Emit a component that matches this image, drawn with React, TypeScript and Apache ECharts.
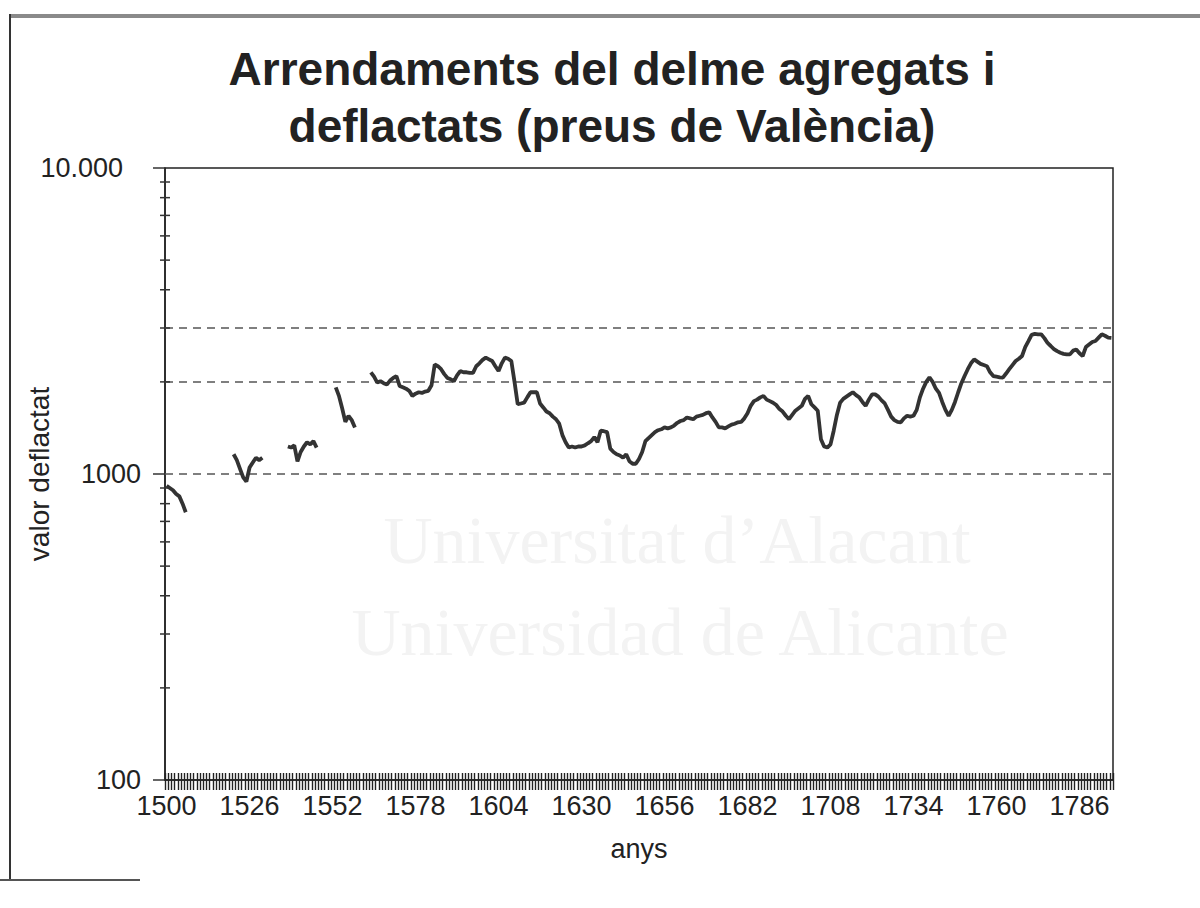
import React, { useEffect, useRef } from "react";
import * as echarts from "echarts";

// Categories: years
const firstYear = 1500;
const lastYear = 1796;
const years: string[] = [];
for (let y = firstYear; y <= lastYear; y++) years.push(String(y));

// Series values (deflated value), by segment start year; gaps are missing years
const seg1500 = [915, 900, 885, 860, 845, 800, 750];
const seg1521 = [1160, 1110, 1040, 975, 945, 1050, 1090, 1130, 1110, 1130];
const seg1538 = [1230, 1220, 1240, 1100, 1180, 1230, 1270, 1250, 1280, 1220];
const seg1553 = [1920, 1800, 1640, 1480, 1550, 1500, 1420];
const seg1564 = [
  2150, 2080, 1990, 2010, 1980, 1960, 2020, 2060, 2090, 1940,
  1920, 1900, 1870, 1800, 1830, 1850, 1840, 1860, 1870, 1950,
  2280, 2250, 2200, 2120, 2060, 2040, 2010, 2100, 2170, 2150,
  2150, 2140, 2140, 2250, 2300, 2360, 2400, 2370, 2340, 2250,
  2170, 2300, 2400, 2380, 2340, 2000, 1690, 1700, 1710, 1780,
  1850, 1850, 1850, 1700, 1650, 1600, 1580, 1540, 1510, 1460,
  1340, 1270, 1220, 1230, 1220, 1230, 1230, 1240, 1260, 1280,
  1320, 1270, 1385, 1380, 1370, 1210, 1180, 1160, 1150, 1130,
  1160, 1100, 1080, 1080, 1120, 1180, 1280, 1310, 1340, 1370,
  1390, 1400, 1420, 1410, 1420, 1440, 1470, 1490, 1500, 1530,
  1520, 1510, 1540, 1550, 1560, 1580, 1590, 1530, 1480, 1420,
  1420, 1410, 1430, 1450, 1460, 1475, 1480, 1520, 1580, 1670,
  1730, 1750, 1780, 1800, 1750, 1730, 1710, 1680, 1630, 1600,
  1550, 1510, 1560, 1610, 1640, 1670, 1760, 1800, 1690, 1650,
  1610, 1300, 1230, 1220, 1250, 1385, 1560, 1710, 1760, 1790,
  1820, 1850, 1810, 1780, 1720, 1670, 1750, 1820, 1820, 1790,
  1740, 1700, 1620, 1540, 1500, 1480, 1474, 1520, 1550, 1540,
  1550, 1620, 1780, 1900, 2000, 2070, 2000, 1900, 1840, 1720,
  1620, 1550, 1620, 1720, 1850, 1980, 2090, 2200, 2300, 2370,
  2330, 2290, 2270, 2250, 2150, 2090, 2080, 2070, 2065, 2130,
  2200, 2270, 2340, 2380, 2430, 2600, 2720, 2850, 2870, 2860,
  2860, 2780, 2680, 2620, 2560, 2520, 2490, 2470, 2460, 2460,
  2530, 2550, 2480, 2430, 2600, 2650, 2700, 2720, 2790, 2860,
  2830, 2790, 2785,
];
const segmentStarts = [1500, 1521, 1538, 1553, 1564];
const segmentValues = [seg1500, seg1521, seg1538, seg1553, seg1564];

// Reference (dashed) lines and y-axis minor tick values
const dashedLineValues = [1000, 2000, 3000];
const minorTickValues = [200, 300, 400, 500, 600, 700, 800, 900, 2000, 3000, 4000, 5000, 6000, 7000, 8000, 9000];

const titleText = "Arrendaments del delme agregats i\ndeflactats (preus de València)";

function buildSeries(): (number | null)[] {
  const out: (number | null)[] = years.map(() => null);
  segmentStarts.forEach((start, s) => {
    segmentValues[s].forEach((v, i) => {
      out[start - firstYear + i] = v;
    });
  });
  return out;
}

export default function App() {
  const ref = useRef<HTMLDivElement>(null);
  useEffect(() => {
    if (!ref.current) return;
    const chart = echarts.init(ref.current, null, { renderer: "svg" });
    const font = "Arial, 'Liberation Sans', sans-serif";
    const option: any = {
      animation: false,
      backgroundColor: "#ffffff",
      title: {
        text: titleText,
        left: 612,
        top: 40,
        textAlign: "center",
        padding: 0,
        textStyle: {
          fontFamily: font,
          fontSize: 46,
          fontWeight: "bold",
          lineHeight: 57,
          color: "#222",
        },
      },
      graphic: [
        { type: "line", shape: { x1: 10, y1: 16, x2: 1200, y2: 16 }, style: { stroke: "#8a8a8a", lineWidth: 4 }, z: 0 },
        { type: "line", shape: { x1: 10, y1: 14, x2: 10, y2: 880 }, style: { stroke: "#333", lineWidth: 2 }, z: 0 },
        { type: "line", shape: { x1: 0, y1: 880, x2: 140, y2: 880 }, style: { stroke: "#555", lineWidth: 2 }, z: 0 },
        {
          type: "text",
          x: 677,
          y: 540,
          z: -1,
          style: { text: "Universitat d’Alacant", font: "68px 'Liberation Serif', serif", fill: "#f3f3f3", align: "center", verticalAlign: "middle" },
        },
        {
          type: "text",
          x: 680,
          y: 632,
          z: -1,
          style: { text: "Universidad de Alicante", font: "68px 'Liberation Serif', serif", fill: "#f3f3f3", align: "center", verticalAlign: "middle" },
        },
      ],
      grid: {
        left: 165,
        right: 87,
        top: 168,
        bottom: 128,
        show: true,
        containLabel: false,
        outerBoundsMode: "none",
        borderColor: "#222",
        borderWidth: 1.5,
        backgroundColor: "transparent",
      },
      xAxis: [
        {
          type: "category",
          data: years,
          boundaryGap: true,
          name: "anys",
          nameLocation: "middle",
          nameGap: 55,
          nameMoveOverlap: false,
          nameTextStyle: { fontFamily: font, fontSize: 27, color: "#222" },
          axisLine: { show: true, lineStyle: { color: "#222", width: 1.5 } },
          axisTick: { show: true, interval: 0, inside: false, length: 10, lineStyle: { color: "#222", width: 1.4 } },
          axisLabel: { interval: 25, margin: 12, fontFamily: font, fontSize: 27, color: "#222" },
          splitLine: { show: false },
        },
        {
          type: "category",
          data: years,
          boundaryGap: true,
          position: "bottom",
          axisLine: { show: false },
          axisTick: { show: true, interval: 0, inside: true, length: 7, lineStyle: { color: "#222", width: 1.4 } },
          axisLabel: { show: false },
          splitLine: { show: false },
        },
      ],
      yAxis: {
        type: "log",
        logBase: 10,
        min: 100,
        max: 10000,
        name: "valor deflactat",
        nameLocation: "middle",
        nameGap: 112,
        nameMoveOverlap: false,
        nameTextStyle: { fontFamily: font, fontSize: 28, color: "#222" },
        axisLine: { show: true, lineStyle: { color: "#222", width: 1.5 } },
        axisTick: { show: true, length: 12, lineStyle: { color: "#333", width: 1.5 } },
        axisLabel: {
          margin: 24,
          fontFamily: font,
          fontSize: 27,
          color: "#222",
          formatter: (v: number) => (v >= 10000 ? "{big|10.000}" : String(Math.round(v))),
          rich: { big: { fontFamily: font, fontSize: 27, color: "#222", padding: [0, 18, 0, 0] } },
        },
        splitLine: { show: false },
      },
      series: [
        {
          type: "line",
          data: buildSeries(),
          xAxisIndex: 0,
          connectNulls: false,
          showSymbol: false,
          symbol: "none",
          lineStyle: { color: "#333", width: 3.8 },
          z: 5,
          markLine: {
            silent: true,
            symbol: "none",
            label: { show: false },
            lineStyle: { color: "#555", width: 1.5, type: [8, 6] },
            data: dashedLineValues.map((v) => ({ yAxis: v })),
          },
        },
        {
          type: "custom",
          xAxisIndex: 0,
          data: minorTickValues.map((v) => [0, v]),
          silent: true,
          z: 6,
          renderItem: (params: any, api: any) => {
            const p = api.coord([api.value(0), api.value(1)]);
            const half = api.size([1, 0])[0] / 2;
            const x = p[0] - half;
            return {
              type: "line",
              shape: { x1: x - 5, y1: p[1], x2: x + 5, y2: p[1] },
              style: { stroke: "#333", lineWidth: 1.5 },
            };
          },
        },
      ],
    };
    chart.setOption(option);
    return () => chart.dispose();
  }, []);
  return (
    <div
      ref={ref}
      style={{ position: "fixed", left: 0, top: 0, width: 1200, height: 908, background: "#fff" }}
    />
  );
}
